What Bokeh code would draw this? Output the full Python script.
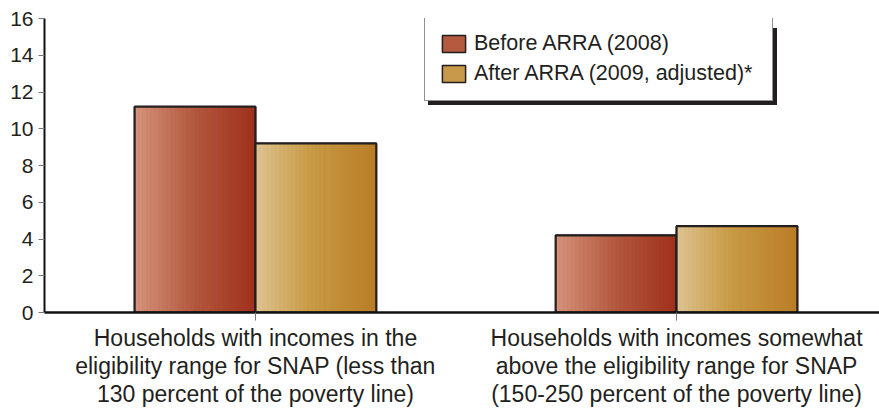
import numpy as np
from bokeh.plotting import figure
from bokeh.models import Range1d, FixedTicker, Legend, LegendItem, ColumnDataSource
from bokeh.embed import file_html
from bokeh.resources import INLINE

# ---------------- data ----------------
categories = [
    "Households with incomes in the\neligibility range for SNAP (less than\n130 percent of the poverty line)",
    "Households with incomes somewhat\nabove the eligibility range for SNAP\n(150-250 percent of the poverty line)",
]
series = ["Before ARRA (2008)", "After ARRA (2009, adjusted)*"]
before = [11.2, 4.2]
after = [9.2, 4.7]
y_ticks = [0, 2, 4, 6, 8, 10, 12, 14, 16]

values = [before, after]

# ---------------- styles ----------------
grad_stops = [
    [(0.0, (214, 148, 124)), (0.5, (178, 88, 62)), (1.0, (160, 48, 28))],
    [(0.0, (222, 196, 146)), (0.45, (200, 155, 70)), (1.0, (186, 124, 38))],
]
mid_colors = ["#B55A3E", "#C8994A"]
INK = "#231f20"
FONT = "Liberation Sans"
bar_w = 0.287
offsets = [-bar_w / 2, bar_w / 2]
N_SLICES = 30


def grad_color(stops, t):
    ts = [s[0] for s in stops]
    rgb = [np.interp(t, ts, [s[1][k] for s in stops]) for k in range(3)]
    return "#%02x%02x%02x" % tuple(int(round(c)) for c in rgb)


p = figure(
    width=879, height=410,
    x_range=Range1d(-0.501, 1.482), y_range=Range1d(0, 16),
    output_backend="svg", toolbar_location=None,
    min_border_left=44, min_border_right=0, min_border_top=18, min_border_bottom=98,
)
p.xgrid.visible = False
p.ygrid.visible = False
p.outline_line_color = None
p.background_fill_color = "white"

solid_r = []
for s, vals in enumerate(values):
    xs = list(range(len(categories)))
    lefts = [x + offsets[s] - bar_w / 2 for x in xs]
    rights = [x + offsets[s] + bar_w / 2 for x in xs]
    src = ColumnDataSource(dict(left=lefts, right=rights, top=vals, bottom=[0] * len(vals)))
    r_solid = p.quad(left="left", right="right", top="top", bottom="bottom", source=src,
                     fill_color=mid_colors[s], line_color=INK, line_width=1.5)
    # gradient slices
    sl, sr, st, sc = [], [], [], []
    for i, v in enumerate(vals):
        for j in range(N_SLICES):
            t0 = j / N_SLICES
            t1 = (j + 1) / N_SLICES
            sl.append(lefts[i] + t0 * bar_w)
            sr.append(lefts[i] + t1 * bar_w)
            st.append(v)
            sc.append(grad_color(grad_stops[s], (t0 + t1) / 2))
    ssrc = ColumnDataSource(dict(left=sl, right=sr, top=st, bottom=[0] * len(st), color=sc))
    p.quad(left="left", right="right", top="top", bottom="bottom", source=ssrc,
           fill_color="color", line_color="color", line_width=0.6)
    p.quad(left="left", right="right", top="top", bottom="bottom", source=src,
           fill_color=None, line_color=INK, line_width=2.2)
    solid_r.append(r_solid)

# ---------------- axes ----------------
xa = p.xaxis[0]
xa.ticker = FixedTicker(ticks=list(range(len(categories))))
xa.major_label_overrides = {i: c for i, c in enumerate(categories)}
xa.axis_line_color = "#111111"
xa.axis_line_width = 2.5
xa.major_tick_out = 8
xa.major_tick_in = 0
xa.major_tick_line_color = "#777777"
xa.major_tick_line_width = 1
xa.minor_tick_line_color = None
xa.major_label_text_font = FONT
xa.major_label_text_font_size = "23px"
xa.major_label_text_color = INK
xa.major_label_text_line_height = 1.09
xa.major_label_standoff = 4

ya = p.yaxis[0]
ya.ticker = FixedTicker(ticks=y_ticks)
ya.axis_line_color = "#111111"
ya.axis_line_width = 2
ya.major_tick_out = 6
ya.major_tick_in = 0
ya.major_tick_line_color = "#777777"
ya.major_tick_line_width = 1
ya.minor_tick_line_color = None
ya.major_label_text_font = FONT
ya.major_label_text_font_size = "21px"
ya.major_label_text_color = INK
ya.major_label_standoff = 5

# ---------------- legend (with drop shadow) ----------------
leg_kw = dict(
    orientation="vertical", padding=14, spacing=5, margin=0,
    glyph_width=29, glyph_height=21, label_height=21, label_width=284,
    label_standoff=6, label_text_font=FONT, label_text_font_size="21.5px",
    label_text_color=INK,
)
vx, vy = 380, 211
shadow = Legend(
    items=[LegendItem(label=" ", renderers=[solid_r[s]]) for s in range(2)],
    location=(vx + 4, vy - 4), background_fill_color=INK, background_fill_alpha=1.0,
    border_line_color=INK, **leg_kw,
)
legend = Legend(
    items=[LegendItem(label=series[s], renderers=[solid_r[s]]) for s in range(2)],
    location=(vx, vy), background_fill_color="white", background_fill_alpha=1.0,
    border_line_color=INK, border_line_width=1, **leg_kw,
)
p.add_layout(shadow, "center")
p.add_layout(legend, "center")

open("out.html", "w").write(file_html(p, INLINE))
